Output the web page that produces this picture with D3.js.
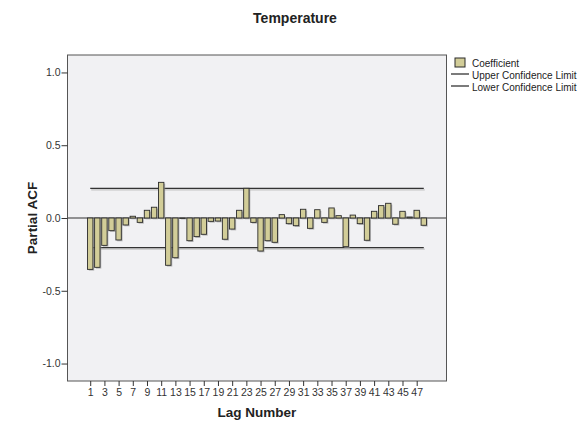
<!DOCTYPE html>
<html>
<head>
	<meta charset="utf-8">
	<script type="text/javascript" src="https://cdn.jsdelivr.net/npm/d3@7"></script>
	<style>
		body { margin: 0; background: #fff; }
		text { font-family: "Liberation Sans", Arial, sans-serif; }
	</style>
</head>
<body>
	<script type="text/javascript">

		// data
		var lags = [1, 2, 3, 4, 5, 6, 7, 8, 9, 10, 11, 12, 13, 14, 15, 16,
			17, 18, 19, 20, 21, 22, 23, 24, 25, 26, 27, 28, 29, 30, 31, 32,
			33, 34, 35, 36, 37, 38, 39, 40, 41, 42, 43, 44, 45, 46, 47, 48];
		var pacf = [-0.353, -0.339, -0.188, -0.087, -0.151, -0.048, 0.012, -0.030,
			0.053, 0.074, 0.245, -0.325, -0.273, -0.003, -0.156, -0.128,
			-0.112, -0.023, -0.021, -0.146, -0.076, 0.053, 0.204, -0.030,
			-0.227, -0.156, -0.167, 0.023, -0.039, -0.053, 0.060, -0.071,
			0.057, -0.030, 0.069, 0.016, -0.197, 0.020, -0.039, -0.153,
			0.046, 0.085, 0.101, -0.043, 0.046, 0.007, 0.053, -0.050];
		var upperLimit = 0.203;
		var lowerLimit = -0.203;
		var xTickLabels = [1, 3, 5, 7, 9, 11, 13, 15, 17, 19, 21, 23, 25, 27, 29, 31,
			33, 35, 37, 39, 41, 43, 45, 47];
		var yTicks = [1.0, 0.5, 0.0, -0.5, -1.0];
		var legendItems = ["Coefficient", "Upper Confidence Limit", "Lower Confidence Limit"];

		// canvas params
		var width = 585, height = 425;
		var plot = {left: 67.5, top: 55, right: 446.5, bottom: 381};

		var svg = d3.select('body')
			.append('svg')
			.attr('width', width)
			.attr('height', height);

		// scales
		var xScale = d3.scalePoint()
			.domain(lags)
			.range([plot.left, plot.right])
			.padding(3.2);

		var yScale = d3.scaleLinear()
			.domain([-1.12, 1.12])
			.range([plot.bottom, plot.top]);

		// plot background
		svg.append('rect')
			.attr('x', plot.left)
			.attr('y', plot.top)
			.attr('width', plot.right - plot.left)
			.attr('height', plot.bottom - plot.top)
			.attr('fill', '#f1f1f3');

		// zero line
		svg.append('line')
			.attr('x1', plot.left)
			.attr('x2', plot.right)
			.attr('y1', yScale(0))
			.attr('y2', yScale(0))
			.attr('stroke', '#333')
			.attr('stroke-width', 1.2);

		// confidence limits (with soft shadow)
		var x0 = xScale(lags[0]), x1 = xScale(lags[lags.length - 1]);
		[upperLimit, lowerLimit].forEach(function(v) {
			svg.append('line')
				.attr('x1', x0 + 1).attr('x2', x1 + 1)
				.attr('y1', yScale(v) + 1.5).attr('y2', yScale(v) + 1.5)
				.attr('stroke', '#c4c4c4').attr('stroke-width', 1.2);
			svg.append('line')
				.attr('x1', x0).attr('x2', x1)
				.attr('y1', yScale(v)).attr('y2', yScale(v))
				.attr('stroke', '#333').attr('stroke-width', 1.2);
		});

		// bars
		var barWidth = 5.4;
		var bars = svg.append('g');

		bars.selectAll('rect.shadow')
			.data(pacf)
			.enter()
			.append('rect')
			.attr('class', 'shadow')
			.attr('x', function(d, i) { return xScale(lags[i]) - barWidth / 2 + 1.3; })
			.attr('y', function(d) { return Math.min(yScale(d), yScale(0)) + 1.3; })
			.attr('width', barWidth)
			.attr('height', function(d) { return Math.abs(yScale(d) - yScale(0)); })
			.attr('fill', '#a0a0a0')
			.attr('opacity', 0.7);

		bars.selectAll('rect.bar')
			.data(pacf)
			.enter()
			.append('rect')
			.attr('class', 'bar')
			.attr('x', function(d, i) { return xScale(lags[i]) - barWidth / 2; })
			.attr('y', function(d) { return Math.min(yScale(d), yScale(0)); })
			.attr('width', barWidth)
			.attr('height', function(d) { return Math.abs(yScale(d) - yScale(0)); })
			.attr('fill', '#d2cd98')
			.attr('stroke', '#2b2b2b')
			.attr('stroke-width', 0.9);

		// frame
		svg.append('rect')
			.attr('x', plot.left)
			.attr('y', plot.top)
			.attr('width', plot.right - plot.left)
			.attr('height', plot.bottom - plot.top)
			.attr('fill', 'none')
			.attr('stroke', '#555')
			.attr('stroke-width', 1);

		// axes
		var xAxis = svg.append('g')
			.attr('class', 'x-axis')
			.attr('transform', 'translate(0,' + plot.bottom + ')')
			.call(d3.axisBottom(xScale)
				.tickValues(xTickLabels)
				.tickSizeInner(5)
				.tickSizeOuter(0)
				.tickPadding(3));

		var yAxis = svg.append('g')
			.attr('class', 'y-axis')
			.attr('transform', 'translate(' + plot.left + ',0)')
			.call(d3.axisLeft(yScale)
				.tickValues(yTicks)
				.tickFormat(function(d) { return d.toFixed(1); })
				.tickSizeInner(6)
				.tickSizeOuter(0)
				.tickPadding(1));

		[xAxis, yAxis].forEach(function(ax) {
			ax.select('.domain').remove();
			ax.selectAll('line').attr('stroke', '#333');
			ax.selectAll('text')
				.attr('fill', '#333')
				.style('font-size', '10.5px')
				.style('font-family', '"Liberation Sans", Arial, sans-serif');
		});

		// titles
		svg.append('text')
			.attr('x', 295)
			.attr('y', 23)
			.attr('text-anchor', 'middle')
			.style('font-size', '14px')
			.style('font-weight', 'bold')
			.attr('fill', '#222')
			.text('Temperature');

		svg.append('text')
			.attr('x', (plot.left + plot.right) / 2)
			.attr('y', 417)
			.attr('text-anchor', 'middle')
			.style('font-size', '13.5px')
			.style('font-weight', 'bold')
			.attr('fill', '#222')
			.text('Lag Number');

		svg.append('text')
			.attr('transform', 'translate(37,' + ((plot.top + plot.bottom) / 2) + ') rotate(-90)')
			.attr('text-anchor', 'middle')
			.style('font-size', '13.5px')
			.style('font-weight', 'bold')
			.attr('fill', '#222')
			.text('Partial ACF');

		// legend
		var legend = svg.append('g').attr('transform', 'translate(451,0)');
		legend.append('rect')
			.attr('x', 4).attr('y', 58)
			.attr('width', 10).attr('height', 9)
			.attr('fill', '#d2cd98')
			.attr('stroke', '#2b2b2b');
		[74, 86].forEach(function(y) {
			legend.append('line')
				.attr('x1', 0).attr('x2', 18)
				.attr('y1', y).attr('y2', y)
				.attr('stroke', '#222')
				.attr('stroke-width', 1.2);
		});
		legend.selectAll('text.leg')
			.data(legendItems)
			.enter()
			.append('text')
			.attr('class', 'leg')
			.attr('x', 21)
			.attr('y', function(d, i) { return 66.5 + i * 12; })
			.style('font-size', '10px')
			.attr('fill', '#222')
			.text(function(d) { return d; });

	</script>
</body>
</html>
